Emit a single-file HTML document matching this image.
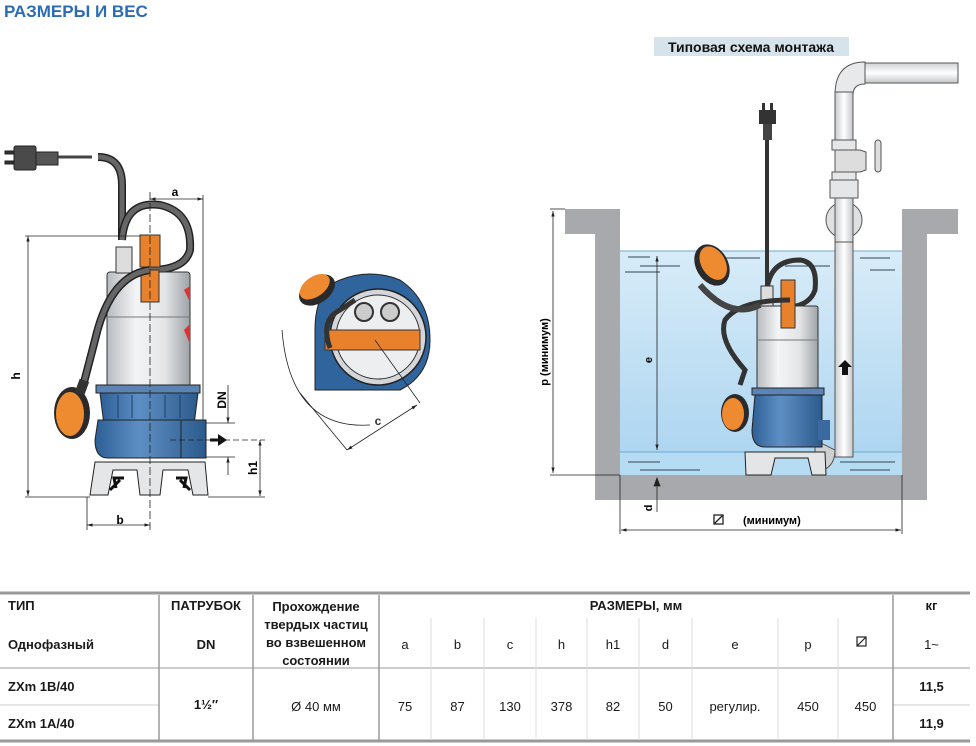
<!DOCTYPE html>
<html><head><meta charset="utf-8">
<style>
body{margin:0;width:976px;height:746px;background:#fff;overflow:hidden;position:relative;font-family:"Liberation Sans","Noto Sans CJK SC",sans-serif;}
.t{position:absolute;white-space:nowrap;color:#1a1a1a;font-size:13px;}
.b{font-weight:bold;}
.c{text-align:center;}
</style></head><body>
<div class="t b" style="left:4px;top:2px;font-size:17px;color:#2b6cb3;">РАЗМЕРЫ И ВЕС</div>

<svg width="976" height="746" style="position:absolute;left:0;top:0" xmlns="http://www.w3.org/2000/svg">
<defs>
<linearGradient id="steel" x1="0" x2="1"><stop offset="0" stop-color="#b8bcc0"/><stop offset=".35" stop-color="#f4f5f6"/><stop offset=".7" stop-color="#e2e4e6"/><stop offset="1" stop-color="#9ea3a8"/></linearGradient>
<linearGradient id="blue" x1="0" x2="1"><stop offset="0" stop-color="#2d5f96"/><stop offset=".4" stop-color="#5e8fc4"/><stop offset="1" stop-color="#2c5a8c"/></linearGradient>
<linearGradient id="water" x1="0" y1="0" x2="0" y2="1"><stop offset="0" stop-color="#d8ecf8"/><stop offset="1" stop-color="#a9d3f0"/></linearGradient>
<linearGradient id="pipe" x1="0" x2="1"><stop offset="0" stop-color="#c9cbcd"/><stop offset=".5" stop-color="#fff"/><stop offset="1" stop-color="#c4c6c8"/></linearGradient>
<linearGradient id="hpipe" x1="0" y1="0" x2="0" y2="1"><stop offset="0" stop-color="#cfd1d3"/><stop offset=".5" stop-color="#fff"/><stop offset="1" stop-color="#c4c6c8"/></linearGradient>
<marker id="ar" viewBox="0 0 10 10" refX="10" refY="5" markerWidth="7" markerHeight="7" orient="auto-start-reverse"><path d="M0,2 L10,5 L0,8 z" fill="#222"/></marker>
</defs>

<!-- ===== LEFT PUMP ===== -->
<g stroke="#222" stroke-width="1">
<!-- plug -->
<rect x="5" y="151" width="10" height="3" fill="#333"/><rect x="5" y="161" width="10" height="3" fill="#333"/>
<rect x="14" y="146" width="22" height="24" rx="2" fill="#4a4a4a"/>
<rect x="36" y="152" width="22" height="13" fill="#555"/>
<line x1="58" y1="157" x2="92" y2="157" stroke="#444" stroke-width="3"/>
</g>
<!-- cable -->
<path d="M98,157 Q122,157 122,185 L122,240" fill="none" stroke="#222" stroke-width="8"/>
<path d="M98,157 Q122,157 122,185 L122,240" fill="none" stroke="#666" stroke-width="5"/>
<path d="M122,240 Q125,200 160,205 Q192,212 190,250 Q185,270 150,270" fill="none" stroke="#222" stroke-width="8"/>
<path d="M122,240 Q125,200 160,205 Q192,212 190,250 Q185,270 150,270" fill="none" stroke="#666" stroke-width="5"/>
<!-- stainless body -->
<rect x="107" y="272" width="83" height="115" rx="3" fill="url(#steel)" stroke="#333"/>
<line x1="107" y1="317" x2="190" y2="317" stroke="#777"/>
<rect x="116" y="247" width="16" height="26" fill="#ddd" stroke="#333"/>
<path d="M184,290 l6,-4 v16 z M184,330 l6,-6 v20 z" fill="#d33"/>
<!-- orange gland -->
<rect x="140" y="235" width="20" height="32" fill="#e8812c" stroke="#333"/>
<rect x="141" y="270" width="18" height="32" fill="#e8812c" stroke="#333"/>
<!-- cable down to float -->
<path d="M150,270 Q110,275 95,340 L82,390" fill="none" stroke="#222" stroke-width="8"/>
<path d="M150,270 Q110,275 95,340 L82,390" fill="none" stroke="#666" stroke-width="5"/>
<!-- blue base -->
<rect x="96" y="385" width="104" height="8" fill="#5b84b5" stroke="#222"/>
<path d="M100,393 H198 L194,425 H104 Z" fill="url(#blue)" stroke="#222"/>
<path d="M98,420 H206 V458 H108 Q95,458 95,440 Z" fill="url(#blue)" stroke="#222"/>
<line x1="181" y1="420" x2="181" y2="458" stroke="#222"/>
<g stroke="#1c3f66"><line x1="118" y1="395" x2="118" y2="418"/><line x1="132" y1="395" x2="132" y2="418"/><line x1="165" y1="395" x2="165" y2="418"/><line x1="180" y1="395" x2="180" y2="418"/></g>
<!-- feet -->
<path d="M95,462 H205 L208,495 H193 L188,470 H163 L160,495 H140 L137,470 H113 L108,495 H90 Z" fill="#e4e6e8" stroke="#222"/>
<path d="M110,490 l10,-10 M116,488 l-2,-10 l10,0" stroke="#111" stroke-width="3" fill="none"/>
<path d="M190,490 l-10,-10 M184,488 l2,-10 l-10,0" stroke="#111" stroke-width="3" fill="none"/>
<path d="M210,440 h9" stroke="#111" stroke-width="3"/><path d="M218,434 l9,6 l-9,6z" fill="#111"/>
<!-- float -->
<ellipse cx="72" cy="413" rx="18" ry="26" fill="#2a2a2a"/>
<ellipse cx="70" cy="414" rx="14" ry="22" fill="#ee8a30"/>
<rect x="77" y="380" width="10" height="14" fill="#333" transform="rotate(20 82 387)"/>
<!-- dimensions -->
<g stroke="#222" stroke-width="0.8" fill="none">
<line x1="150" y1="192" x2="150" y2="530" stroke-dasharray="8,3"/>
<line x1="203" y1="195" x2="203" y2="420"/>
<line x1="150" y1="199" x2="203" y2="199" marker-start="url(#ar)" marker-end="url(#ar)"/>
<line x1="25" y1="236" x2="140" y2="236"/>
<line x1="28" y1="236" x2="28" y2="496" marker-start="url(#ar)" marker-end="url(#ar)"/>
<line x1="25" y1="497" x2="90" y2="497"/><line x1="208" y1="497" x2="265" y2="497"/>
<line x1="87" y1="497" x2="87" y2="530"/>
<line x1="87" y1="525" x2="150" y2="525" marker-start="url(#ar)" marker-end="url(#ar)"/>
<line x1="260" y1="440" x2="260" y2="496" marker-start="url(#ar)" marker-end="url(#ar)"/>
<line x1="170" y1="440" x2="265" y2="440" stroke-dasharray="6,3"/>
<line x1="206" y1="423" x2="235" y2="423"/><line x1="206" y1="457" x2="235" y2="457"/>
<line x1="228" y1="385" x2="228" y2="423" marker-end="url(#ar)"/>
<line x1="228" y1="475" x2="228" y2="457" marker-end="url(#ar)"/>
</g>
<text x="175" y="196" font-size="12" font-weight="bold" text-anchor="middle" font-family="Liberation Sans">a</text>
<text x="120" y="524" font-size="12" font-weight="bold" text-anchor="middle" font-family="Liberation Sans">b</text>
<text transform="translate(20,376) rotate(-90)" font-size="12" font-weight="bold" text-anchor="middle" font-family="Liberation Sans">h</text>
<text transform="translate(257,468) rotate(-90)" font-size="12" font-weight="bold" text-anchor="middle" font-family="Liberation Sans">h1</text>
<text transform="translate(226,400) rotate(-90)" font-size="12" font-weight="bold" text-anchor="middle" font-family="Liberation Sans">DN</text>

<!-- ===== MIDDLE TOP VIEW ===== -->
<path d="M315,380 L315,330 Q315,290 340,280 Q370,268 400,280 Q430,300 430,340 Q430,375 400,390 L315,390 Z" fill="#2f659c" stroke="#222"/>
<circle cx="378" cy="337" r="48" fill="#d4d6d9" stroke="#222" stroke-width="1.5"/>
<circle cx="378" cy="337" r="42" fill="#eceeef" stroke="#333"/>
<circle cx="364" cy="312" r="9" fill="#ccc" stroke="#333" stroke-width="2"/>
<circle cx="390" cy="312" r="9" fill="#ccc" stroke="#333" stroke-width="2"/>
<rect x="325" y="330" width="95" height="20" fill="#e8802c" stroke="#333"/>
<path d="M330,348 Q320,320 340,310 L355,300" fill="none" stroke="#333" stroke-width="5"/>
<g transform="rotate(-35 317 290)"><ellipse cx="317" cy="290" rx="20" ry="13" fill="#2a2a2a"/><ellipse cx="317" cy="286" rx="17" ry="10" fill="#ee8a30"/></g>
<g stroke="#222" stroke-width="0.8" fill="none">
<path d="M282,330 Q290,430 370,425"/>
<line x1="300" y1="393" x2="347" y2="450"/><line x1="375" y1="340" x2="420" y2="403"/>
<line x1="347" y1="450" x2="417" y2="405" marker-start="url(#ar)" marker-end="url(#ar)"/>
</g>
<text x="378" y="425" font-size="12" font-weight="bold" text-anchor="middle" fill="#333" font-family="Liberation Sans">c</text>

<!-- ===== RIGHT INSTALLATION ===== -->
<rect x="654" y="37" width="195" height="19" fill="#d6e3eb"/>
<text x="751" y="52" font-size="14" font-weight="bold" text-anchor="middle" fill="#111" font-family="Liberation Sans">Типовая схема монтажа</text>
<rect x="620" y="251" width="282" height="224" fill="url(#water)"/>
<rect x="620" y="452" width="282" height="23" fill="#b6dcf4"/>
<line x1="620" y1="251" x2="902" y2="251" stroke="#6fa9d2"/>
<line x1="620" y1="452" x2="902" y2="452" stroke="#6fa9d2"/>
<g stroke="#345" stroke-width="1">
<line x1="628" y1="257" x2="650" y2="257"/><line x1="640" y1="266" x2="680" y2="266"/><line x1="625" y1="272" x2="660" y2="272"/><line x1="720" y1="258" x2="760" y2="258"/><line x1="785" y1="266" x2="830" y2="266"/><line x1="860" y1="258" x2="890" y2="258"/><line x1="870" y1="270" x2="895" y2="270"/>
<line x1="628" y1="462" x2="660" y2="462"/><line x1="640" y1="470" x2="700" y2="470"/><line x1="840" y1="462" x2="895" y2="462"/><line x1="850" y1="470" x2="890" y2="470"/>
</g>
<path d="M565,209 H620 V475 H902 V209 H958 V234 H927 V500 H595 V234 H565 Z" fill="#a7a9ac"/>
<!-- pipes -->
<rect x="865" y="63" width="93" height="20" fill="url(#hpipe)" stroke="#555"/>
<path d="M835,95 Q835,62 865,62 V84 Q853,84 853,95 Z" fill="#e8e9ea" stroke="#555"/>
<rect x="835" y="92" width="18" height="365" fill="url(#pipe)" stroke="#555"/>
<rect x="832" y="140" width="24" height="10" fill="#e5e6e7" stroke="#555"/>
<path d="M835,150 H860 L866,152 V170 L860,172 H835 Z" fill="#ddd" stroke="#555"/>
<rect x="875" y="140" width="6" height="32" rx="3" fill="#ddd" stroke="#555"/>
<rect x="832" y="172" width="24" height="8" fill="#e5e6e7" stroke="#555"/>
<rect x="830" y="180" width="28" height="18" fill="#e5e6e7" stroke="#555"/>
<ellipse cx="844" cy="220" rx="18" ry="18" fill="#dfe0e1" stroke="#555"/>
<rect x="835" y="198" width="18" height="44" fill="url(#pipe)" stroke="#555"/>
<path d="M835,450 Q835,470 815,472 V440 Z" fill="#cfd0d1" stroke="#555"/>
<path d="M838,367 l7,-7 l7,7 h-4 v8 h-6 v-8 z" fill="#111"/>
<!-- cable & plug -->
<rect x="762" y="103" width="3" height="8" fill="#333"/><rect x="770" y="103" width="3" height="8" fill="#333"/>
<rect x="759" y="110" width="17" height="14" fill="#333"/>
<rect x="763" y="124" width="9" height="16" fill="#444"/>
<line x1="767" y1="140" x2="767" y2="290" stroke="#333" stroke-width="4"/>
<path d="M767,290 Q770,260 800,260 Q818,262 815,290 Q810,305 790,307" fill="none" stroke="#333" stroke-width="5"/>
<!-- pump -->
<rect x="757" y="306" width="61" height="86" rx="2" fill="url(#steel)" stroke="#333"/>
<line x1="757" y1="340" x2="818" y2="340" stroke="#777"/>
<rect x="761" y="286" width="12" height="20" fill="#ddd" stroke="#333"/>
<rect x="781" y="280" width="14" height="48" fill="#e8812c" stroke="#333"/>
<rect x="752" y="388" width="72" height="7" fill="#5b84b5" stroke="#222"/>
<path d="M755,395 H822 V447 H765 Q752,447 752,430 Z" fill="url(#blue)" stroke="#222"/>
<path d="M745,452 H825 L826,475 H812 L808,458 H775 L771,475 H746 Z" fill="#e3e5e7" stroke="#222"/>
<path d="M818,440 V420 H830 V440 Z" fill="#3a6aa0"/>
<path d="M790,300 Q740,300 725,320 Q718,340 745,370 L740,385" fill="none" stroke="#333" stroke-width="5"/>
<path d="M760,305 Q730,320 700,285" fill="none" stroke="#444" stroke-width="6"/>
<g transform="rotate(-30 712 265)"><ellipse cx="712" cy="265" rx="16" ry="22" fill="#2a2a2a"/><ellipse cx="714" cy="264" rx="12" ry="18" fill="#ee8a30"/></g>
<ellipse cx="735" cy="413" rx="14" ry="19" fill="#2a2a2a"/><ellipse cx="733" cy="414" rx="11" ry="16" fill="#ee8a30"/>
<!-- dims -->
<g stroke="#222" stroke-width="0.8" fill="none">
<line x1="550" y1="209" x2="565" y2="209"/>
<line x1="553" y1="211" x2="553" y2="473" marker-start="url(#ar)" marker-end="url(#ar)"/>
<line x1="550" y1="475" x2="620" y2="475"/>
<line x1="657" y1="256" x2="657" y2="450" marker-start="url(#ar)" marker-end="url(#ar)"/>
<line x1="657" y1="478" x2="657" y2="512"/><path d="M654,486 l3,-8 l3,8z" fill="#222"/>
<line x1="620" y1="475" x2="620" y2="534"/><line x1="902" y1="475" x2="902" y2="534"/>
<line x1="621" y1="530" x2="901" y2="530" marker-start="url(#ar)" marker-end="url(#ar)"/>
</g>
<text transform="translate(548,352) rotate(-90)" font-size="11" font-weight="bold" text-anchor="middle" font-family="Liberation Sans">p (минимум)</text>
<text transform="translate(652,360) rotate(-90)" font-size="11" font-weight="bold" text-anchor="middle" font-family="Liberation Sans">e</text>
<text transform="translate(652,508) rotate(-90)" font-size="11" font-weight="bold" text-anchor="middle" font-family="Liberation Sans">d</text>
<rect x="714" y="515" width="9" height="9" fill="none" stroke="#222" stroke-width="1.3"/><line x1="714" y1="524" x2="723" y2="515" stroke="#222" stroke-width="1.3"/>
<text x="743" y="524" font-size="11" font-weight="bold" font-family="Liberation Sans">(минимум)</text>

<!-- ===== TABLE LINES ===== -->
<g stroke="#9a9a9a">
<line x1="0" y1="593" x2="970" y2="593" stroke-width="3"/>
<line x1="0" y1="741" x2="970" y2="741" stroke-width="3"/>
<line x1="0" y1="668" x2="970" y2="668" stroke-width="1"/>
<line x1="0" y1="705" x2="158" y2="705" stroke-width="0.8" stroke="#bbb"/>
<line x1="893" y1="705" x2="970" y2="705" stroke-width="0.8" stroke="#bbb"/>
<line x1="159" y1="595" x2="159" y2="740" stroke-width="1.5"/>
<line x1="253" y1="595" x2="253" y2="740" stroke-width="1.5"/>
<line x1="379" y1="595" x2="379" y2="740" stroke-width="1.5"/>
<line x1="893" y1="595" x2="893" y2="740" stroke-width="1.5"/>
</g>
<g stroke="#ddd" stroke-width="1">
<line x1="431" y1="618" x2="431" y2="740"/><line x1="484" y1="618" x2="484" y2="740"/><line x1="536" y1="618" x2="536" y2="740"/><line x1="587" y1="618" x2="587" y2="740"/><line x1="639" y1="618" x2="639" y2="740"/><line x1="692" y1="618" x2="692" y2="740"/><line x1="778" y1="618" x2="778" y2="740"/><line x1="838" y1="618" x2="838" y2="740"/>
</g>
<rect x="857" y="637" width="9" height="9" fill="none" stroke="#222" stroke-width="1.2"/><line x1="857" y1="646" x2="866" y2="637" stroke="#222" stroke-width="1.2"/>
</svg>

<div class="t b" style="left:8px;top:598px;">ТИП</div>
<div class="t b" style="left:8px;top:637px;">Однофазный</div>
<div class="t b c" style="left:159px;width:94px;top:598px;">ПАТРУБОК</div>
<div class="t b c" style="left:159px;width:94px;top:637px;">DN</div>
<div class="t b c" style="left:253px;width:126px;top:598px;line-height:18px;">Прохождение<br>твердых частиц<br>во взвешенном<br>состоянии</div>
<div class="t b c" style="left:379px;width:514px;top:598px;">РАЗМЕРЫ, мм</div>
<div class="t b c" style="left:893px;width:77px;top:598px;">кг</div>
<div class="t c" style="left:379px;width:52px;top:637px;">a</div>
<div class="t c" style="left:431px;width:53px;top:637px;">b</div>
<div class="t c" style="left:484px;width:52px;top:637px;">c</div>
<div class="t c" style="left:536px;width:51px;top:637px;">h</div>
<div class="t c" style="left:587px;width:52px;top:637px;">h1</div>
<div class="t c" style="left:639px;width:53px;top:637px;">d</div>
<div class="t c" style="left:692px;width:86px;top:637px;">e</div>
<div class="t c" style="left:778px;width:60px;top:637px;">p</div>
<div class="t c" style="left:893px;width:77px;top:637px;">1~</div>
<div class="t b" style="left:8px;top:679px;">ZXm 1B/40</div>
<div class="t b" style="left:8px;top:716px;">ZXm 1A/40</div>
<div class="t b c" style="left:159px;width:94px;top:697px;">1½″</div>
<div class="t c" style="left:253px;width:126px;top:699px;">Ø 40 мм</div>
<div class="t c" style="left:379px;width:52px;top:699px;">75</div>
<div class="t c" style="left:431px;width:53px;top:699px;">87</div>
<div class="t c" style="left:484px;width:52px;top:699px;">130</div>
<div class="t c" style="left:536px;width:51px;top:699px;">378</div>
<div class="t c" style="left:587px;width:52px;top:699px;">82</div>
<div class="t c" style="left:639px;width:53px;top:699px;">50</div>
<div class="t c" style="left:692px;width:86px;top:699px;">регулир.</div>
<div class="t c" style="left:778px;width:60px;top:699px;">450</div>
<div class="t c" style="left:838px;width:55px;top:699px;">450</div>
<div class="t b c" style="left:893px;width:77px;top:679px;">11,5</div>
<div class="t b c" style="left:893px;width:77px;top:716px;">11,9</div>
</body></html>
